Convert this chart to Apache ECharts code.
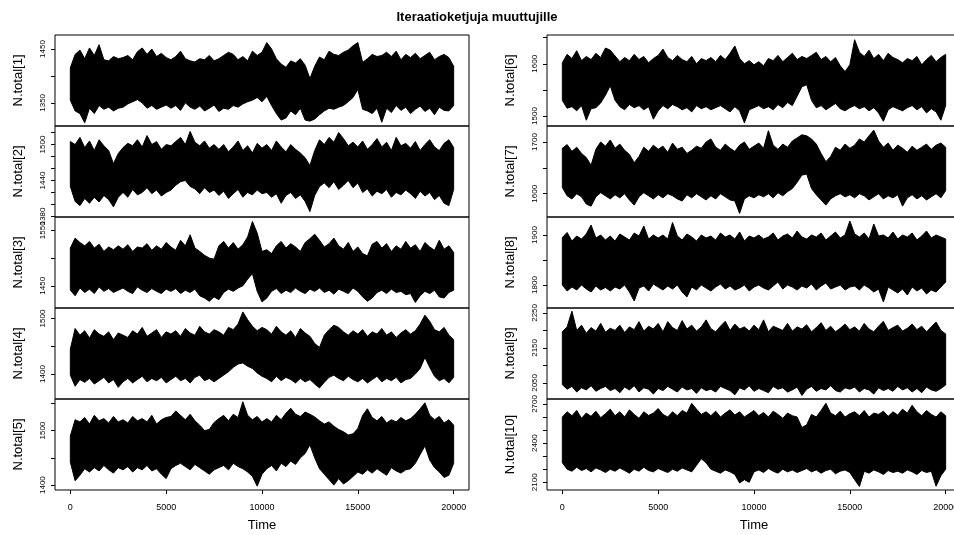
<!DOCTYPE html>
<html>
<head>
<meta charset="utf-8">
<script src="https://cdn.jsdelivr.net/npm/echarts@6/dist/echarts.min.js"></script>
<style>
html, body { margin: 0; padding: 0; background: #fff; }
#chart { width: 954px; height: 535px; }
</style>
</head>
<body>
<div id="chart"></div>
<script>
// iteraatiot (otoskohdat ketjusta, 250 välein)
var iter = [0,250,500,750,1000,1250,1500,1750,2000,2250,2500,2750,3000,3250,3500,3750,4000,4250,4500,4750,
  5000,5250,5500,5750,6000,6250,6500,6750,7000,7250,7500,7750,8000,8250,8500,8750,9000,9250,9500,9750,
  10000,10250,10500,10750,11000,11250,11500,11750,12000,12250,12500,12750,13000,13250,13500,13750,14000,14250,14500,14750,
  15000,15250,15500,15750,16000,16250,16500,16750,17000,17250,17500,17750,18000,18250,18500,18750,19000,19250,19500,19750,20000];

var xTicks = [0, 5000, 10000, 15000, 20000];

// ketjujen ylä- ja alareunat (luettu kuvasta)
var n1Hi = [1415,1440,1448,1432,1452,1438,1458,1430,1428,1436,1432,1434,1438,1430,1445,1452,1440,1450,1436,1442,1434,
  1430,1436,1446,1432,1428,1426,1432,1430,1438,1428,1432,1438,1444,1440,1430,1436,1428,1446,1438,1444,
  1462,1450,1432,1422,1416,1428,1424,1432,1420,1395,1418,1435,1430,1446,1440,1438,1444,1448,1456,1462,1425,1432,1440,1436,
  1438,1444,1436,1446,1430,1440,1434,1442,1432,1438,1444,1430,1436,1440,1434,1418];
var n1Lo = [1355,1335,1330,1313,1340,1330,1345,1338,1342,1335,1340,1342,1348,1352,1356,1350,1340,1345,1338,1342,1346,
  1340,1345,1336,1350,1342,1338,1344,1335,1340,1346,1334,1340,1338,1345,1342,1348,1352,1355,1360,1352,
  1362,1345,1330,1318,1322,1335,1328,1340,1318,1316,1320,1328,1335,1340,1338,1342,1345,1352,1360,1375,1338,1335,1330,1340,
  1314,1340,1332,1345,1336,1342,1330,1338,1344,1334,1340,1328,1342,1336,1335,1345];

var n2Hi = [1505,1500,1512,1495,1506,1490,1508,1498,1490,1468,1485,1495,1502,1498,1508,1496,1515,1500,1505,1492,1500,
  1498,1505,1512,1500,1522,1504,1498,1506,1494,1500,1492,1500,1488,1496,1506,1490,1498,1486,1502,1494,
  1500,1490,1506,1496,1488,1500,1492,1486,1478,1465,1490,1508,1500,1512,1504,1520,1510,1498,1504,1496,
  1506,1492,1500,1510,1496,1504,1490,1512,1498,1502,1494,1505,1490,1500,1508,1496,1490,1502,1508,1495];
var n2Lo = [1430,1405,1398,1410,1402,1412,1404,1415,1408,1396,1412,1420,1412,1425,1416,1420,1428,1418,1424,1414,1420,
  1424,1432,1438,1440,1430,1426,1418,1428,1420,1424,1415,1422,1410,1418,1425,1412,1420,1416,1424,1418,
  1420,1412,1418,1402,1415,1420,1410,1416,1405,1388,1415,1430,1436,1428,1438,1425,1432,1440,1428,1436,
  1420,1426,1414,1422,1418,1425,1412,1420,1416,1424,1418,1410,1422,1414,1420,1408,1415,1402,1398,1425];

var n3Hi = [1518,1536,1528,1522,1530,1518,1525,1512,1520,1515,1522,1516,1524,1512,1520,1518,1526,1514,1522,1516,1528,
  1520,1514,1532,1522,1542,1518,1512,1505,1500,1498,1522,1530,1518,1528,1516,1524,1538,1566,1545,1512,
  1515,1508,1522,1530,1518,1526,1520,1512,1528,1535,1543,1532,1520,1526,1536,1522,1516,1528,1512,1520,
  1508,1504,1525,1530,1518,1526,1512,1522,1516,1530,1518,1524,1512,1528,1520,1514,1532,1516,1522,1510];
var n3Lo = [1442,1432,1446,1438,1444,1436,1448,1440,1445,1438,1442,1446,1440,1436,1448,1442,1438,1445,1440,1436,1444,
  1440,1445,1436,1442,1438,1444,1432,1428,1422,1430,1425,1438,1444,1440,1446,1450,1462,1472,1440,1421,
  1428,1440,1445,1436,1442,1438,1446,1440,1436,1444,1440,1446,1438,1442,1435,1444,1440,1436,1446,1440,
  1430,1422,1428,1438,1442,1436,1444,1438,1440,1434,1436,1420,1432,1440,1436,1442,1430,1428,1438,1442];

var n4Hi = [1445,1482,1470,1478,1465,1480,1472,1468,1476,1462,1474,1470,1466,1478,1472,1484,1468,1474,1480,1466,1476,
  1472,1478,1468,1482,1474,1470,1486,1476,1472,1480,1476,1470,1484,1480,1490,1512,1498,1486,1478,1484,
  1480,1472,1486,1476,1470,1478,1466,1482,1474,1468,1455,1448,1470,1480,1488,1484,1476,1470,1478,1472,
  1480,1468,1476,1472,1482,1470,1476,1466,1474,1480,1472,1478,1490,1506,1495,1480,1476,1484,1470,1462];
var n4Lo = [1398,1378,1390,1385,1392,1382,1388,1394,1384,1390,1376,1386,1392,1384,1390,1396,1386,1392,1388,1394,1384,
  1390,1396,1388,1392,1384,1394,1398,1388,1392,1386,1392,1398,1404,1412,1418,1420,1414,1410,1402,1396,
  1392,1386,1396,1388,1394,1390,1384,1392,1386,1390,1382,1375,1385,1394,1398,1392,1388,1396,1390,1386,
  1392,1384,1390,1396,1386,1392,1388,1394,1384,1390,1392,1400,1410,1430,1412,1396,1388,1392,1384,1394];

var n5Hi = [1490,1520,1516,1524,1512,1528,1518,1522,1514,1526,1516,1520,1514,1526,1518,1522,1516,1528,1512,1520,1524,
  1526,1536,1528,1520,1530,1518,1510,1500,1502,1515,1522,1528,1518,1530,1524,1553,1528,1520,1526,1516,
  1522,1516,1528,1520,1532,1541,1530,1526,1534,1530,1525,1518,1512,1516,1508,1502,1498,1492,1494,1504,
  1528,1540,1524,1518,1526,1514,1520,1516,1524,1518,1522,1530,1540,1551,1528,1520,1526,1514,1520,1510];
var n5Lo = [1442,1408,1418,1430,1424,1432,1426,1436,1428,1422,1432,1428,1434,1424,1432,1428,1436,1426,1430,1420,1412,
  1430,1436,1440,1434,1428,1438,1432,1426,1420,1428,1432,1436,1428,1440,1434,1430,1424,1416,1398,1420,
  1430,1436,1426,1440,1434,1444,1438,1450,1458,1474,1450,1430,1420,1410,1400,1412,1402,1408,1416,1424,
  1420,1428,1422,1430,1424,1418,1432,1426,1422,1428,1430,1440,1456,1472,1446,1432,1424,1414,1418,1440];

var n6Hi = [1602,1618,1610,1625,1606,1614,1608,1620,1612,1630,1626,1615,1604,1612,1606,1618,1608,1614,1602,1610,1616,
  1628,1612,1606,1616,1608,1604,1614,1600,1610,1606,1612,1604,1616,1608,1620,1634,1610,1600,1606,1598,
  1604,1596,1610,1606,1616,1604,1612,1620,1608,1614,1610,1616,1622,1608,1614,1604,1612,1596,1585,1598,
  1646,1622,1614,1626,1610,1618,1606,1620,1612,1608,1602,1610,1606,1614,1598,1608,1616,1604,1612,1618];
var n6Lo = [1530,1515,1518,1510,1520,1492,1514,1516,1525,1540,1558,1530,1518,1512,1522,1516,1520,1512,1518,1494,1510,
  1520,1514,1522,1518,1512,1516,1508,1520,1514,1518,1512,1516,1520,1514,1508,1518,1510,1487,1512,1516,
  1520,1514,1518,1512,1522,1516,1526,1520,1538,1556,1560,1530,1516,1520,1512,1518,1524,1514,1510,1516,
  1520,1514,1518,1510,1516,1506,1490,1512,1518,1514,1510,1516,1520,1512,1518,1506,1514,1508,1492,1520];

var n7Hi = [1688,1695,1682,1690,1678,1670,1655,1686,1700,1692,1704,1688,1696,1684,1676,1660,1672,1690,1682,1694,1686,
  1692,1680,1698,1686,1690,1678,1684,1692,1688,1700,1706,1690,1684,1696,1688,1682,1694,1700,1686,1692,
  1698,1688,1722,1694,1686,1696,1690,1702,1708,1714,1712,1706,1696,1678,1662,1672,1690,1684,1696,1688,
  1694,1706,1700,1712,1723,1702,1690,1698,1684,1694,1688,1680,1692,1684,1690,1696,1686,1694,1698,1690];
var n7Lo = [1612,1596,1590,1600,1594,1580,1576,1594,1602,1596,1590,1598,1592,1600,1588,1578,1594,1602,1596,1590,1598,
  1592,1600,1596,1590,1586,1598,1592,1600,1594,1588,1596,1590,1600,1594,1588,1586,1562,1590,1596,1592,
  1598,1594,1600,1592,1602,1596,1604,1610,1622,1636,1638,1610,1598,1588,1578,1590,1596,1600,1594,1598,
  1592,1600,1596,1588,1594,1600,1590,1596,1592,1598,1576,1592,1598,1590,1596,1588,1594,1600,1592,1606];

var n8Hi = [1895,1905,1888,1898,1892,1902,1920,1894,1900,1890,1898,1888,1902,1896,1890,1904,1898,1918,1892,1900,1894,
  1900,1892,1925,1898,1890,1902,1896,1888,1900,1894,1898,1890,1904,1896,1900,1892,1906,1888,1898,1894,
  1900,1892,1896,1904,1890,1898,1902,1894,1908,1896,1892,1900,1896,1904,1890,1898,1906,1894,1900,1928,
  1902,1896,1904,1892,1922,1898,1900,1894,1906,1892,1900,1896,1904,1890,1898,1908,1894,1900,1896,1892];
var n8Lo = [1800,1788,1796,1790,1800,1792,1786,1798,1790,1795,1788,1796,1792,1800,1786,1768,1794,1798,1788,1802,1796,
  1790,1798,1792,1800,1786,1776,1796,1790,1800,1794,1788,1796,1802,1792,1798,1790,1794,1800,1788,1796,
  1800,1794,1790,1798,1806,1792,1800,1796,1790,1798,1794,1802,1790,1798,1804,1792,1796,1800,1790,1796,
  1798,1790,1800,1794,1786,1792,1766,1796,1790,1784,1792,1780,1796,1788,1794,1782,1790,1786,1796,1806];

var n9Hi = [2196,2210,2255,2200,2215,2192,2208,2198,2220,2195,2206,2200,2215,2194,2210,2202,2225,2198,2212,2204,2220,
  2196,2225,2208,2200,2228,2204,2215,2198,2210,2230,2205,2196,2212,2226,2200,2218,2204,2210,2198,2215,
  2202,2230,2196,2212,2206,2200,2220,2198,2210,2204,2216,2196,2208,2222,2200,2212,2196,2206,2218,2202,
  2210,2198,2220,2204,2196,2212,2226,2200,2208,2215,2198,2206,2218,2202,2212,2196,2210,2224,2200,2190];
var n9Lo = [2045,2032,2040,2024,2036,2030,2042,2026,2034,2040,2028,2034,2022,2038,2030,2042,2024,2036,2032,2018,2034,
  2028,2040,2032,2024,2038,2030,2034,2020,2036,2028,2032,2024,2040,2034,2028,2016,2036,2030,2042,2026,
  2034,2028,2022,2040,2032,2036,2024,2030,2038,2014,2032,2040,2026,2034,2030,2042,2028,2024,2036,2032,
  2038,2024,2034,2030,2018,2036,2028,2034,2026,2040,2030,2036,2024,2034,2022,2038,2030,2026,2034,2044];

var n10Hi = [2600,2640,2610,2650,2590,2630,2605,2645,2595,2625,2660,2610,2640,2600,2655,2620,2590,2640,2612,2630,2665,
  2620,2600,2640,2610,2650,2630,2705,2660,2620,2640,2610,2645,2600,2630,2655,2615,2640,2600,2625,2650,
  2610,2635,2600,2645,2620,2590,2630,2610,2600,2520,2540,2620,2600,2650,2705,2630,2610,2645,2600,2625,
  2640,2610,2650,2600,2630,2620,2645,2605,2640,2615,2660,2630,2690,2640,2610,2650,2620,2600,2640,2610];
var n10Lo = [2250,2200,2185,2215,2190,2205,2180,2210,2195,2175,2200,2185,2210,2190,2170,2200,2185,2215,2190,2180,2205,
  2190,2175,2200,2185,2210,2195,2180,2230,2280,2250,2200,2185,2170,2195,2180,2160,2095,2120,2100,2180,
  2195,2175,2205,2185,2170,2200,2180,2195,2175,2190,2205,2180,2195,2170,2190,2200,2165,2185,2195,2175,
  2120,2068,2185,2170,2195,2180,2160,2190,2175,2185,2170,2195,2180,2160,2190,2175,2185,2070,2150,2200];

// akselien rajat ja asteikot
var yMins = [1307, 1379, 1410, 1355, 1391, 1481, 1555, 1754, 2004, 2041];
var yMaxs = [1476, 1531, 1574, 1519, 1558, 1655, 1731, 1936, 2264, 2738];
var yTicks = [
  [1350,1400,1450],
  [1380,1400,1420,1440,1460,1480,1500,1520],
  [1450,1500,1550],
  [1400,1450,1500],
  [1400,1450,1500,1550],
  [1500,1550,1600,1650],
  [1600,1650,1700],
  [1800,1850,1900],
  [2050,2100,2150,2200,2250],
  [2100,2200,2300,2400,2500,2600,2700]
];
var yLabels = [
  [1350,1450],
  [1380,1440,1500],
  [1450,1550],
  [1400,1500],
  [1400,1500],
  [1500,1600],
  [1600,1700],
  [1800,1900],
  [2050,2150,2250],
  [2100,2400,2700]
];
var his = [n1Hi, n2Hi, n3Hi, n4Hi, n5Hi, n6Hi, n7Hi, n8Hi, n9Hi, n10Hi];
var los = [n1Lo, n2Lo, n3Lo, n4Lo, n5Lo, n6Lo, n7Lo, n8Lo, n9Lo, n10Lo];

var chart = echarts.init(document.getElementById('chart'));
var font = 'Liberation Sans, Arial, sans-serif';

// koko ketjun vyö yhtenä monikulmiona (ylreuna eteenpäin, alareuna takaisin)
function renderBand(params, api) {
    if (params.dataIndex !== 0) return null;
    var hi = his[params.seriesIndex], lo = los[params.seriesIndex];
    var pts = [];
    for (var i = 0; i < iter.length; i++) pts.push(api.coord([iter[i], hi[i]]));
    for (var j = iter.length - 1; j >= 0; j--) pts.push(api.coord([iter[j], lo[j]]));
    return {
        type: 'polygon',
        shape: { points: pts },
        style: { fill: '#000', stroke: '#000', lineWidth: 1 }
    };
}

var grids = [], xAxes = [], yAxes = [], series = [];
for (var k = 0; k < 10; k++) {
    var col = k < 5 ? 0 : 1;
    var row = k % 5;
    var bottom = row === 4;
    grids.push({
        left: col ? 547 : 55,
        width: 414,
        top: 35 + 91 * row,
        height: 91,
        outerBoundsMode: 'none',
        show: true,
        borderColor: '#000',
        borderWidth: 1,
        backgroundColor: 'transparent'
    });
    xAxes.push({
        gridIndex: k,
        type: 'value',
        min: -800,
        max: 20800,
        axisLine: { show: false, onZero: false },
        splitLine: { show: false },
        axisTick: { show: bottom, length: 4, customValues: xTicks, lineStyle: { color: '#000' } },
        axisLabel: {
            show: bottom, customValues: xTicks, fontSize: 9, color: '#000', margin: 13,
            fontFamily: font, formatter: function (v) { return String(v); }
        },
        name: bottom ? 'Time' : '',
        nameLocation: 'middle',
        nameGap: 29,
        nameTextStyle: { fontSize: 13, color: '#000', fontFamily: font }
    });
    yAxes.push({
        gridIndex: k,
        type: 'value',
        min: yMins[k],
        max: yMaxs[k],
        axisLine: { show: false, onZero: false },
        splitLine: { show: false },
        axisTick: { length: 4, customValues: yTicks[k], lineStyle: { color: '#000' } },
        axisLabel: {
            customValues: yLabels[k], rotate: 90, fontSize: 8, color: '#000', margin: 8,
            fontFamily: font, formatter: function (v) { return String(v); }
        },
        name: 'N.total[' + (k + 1) + ']',
        nameLocation: 'middle',
        nameGap: 30,
        nameRotate: 90,
        nameTextStyle: { fontSize: 13, color: '#000', fontFamily: font }
    });
    var lo = los[k], hi = his[k];
    series.push({
        type: 'custom',
        xAxisIndex: k, yAxisIndex: k,
        silent: true,
        renderItem: renderBand,
        encode: { x: 0, y: [1, 2] },
        data: iter.map(function (x, i) { return [x, lo[i], hi[i]]; })
    });
}

chart.setOption({
    animation: false,
    backgroundColor: '#fff',
    title: {
        text: 'Iteraatioketjuja muuttujille',
        left: 'center',
        top: 6,
        textStyle: { fontSize: 13, fontWeight: 'bold', color: '#000', fontFamily: font }
    },
    grid: grids,
    xAxis: xAxes,
    yAxis: yAxes,
    series: series
});
</script>
</body>
</html>
